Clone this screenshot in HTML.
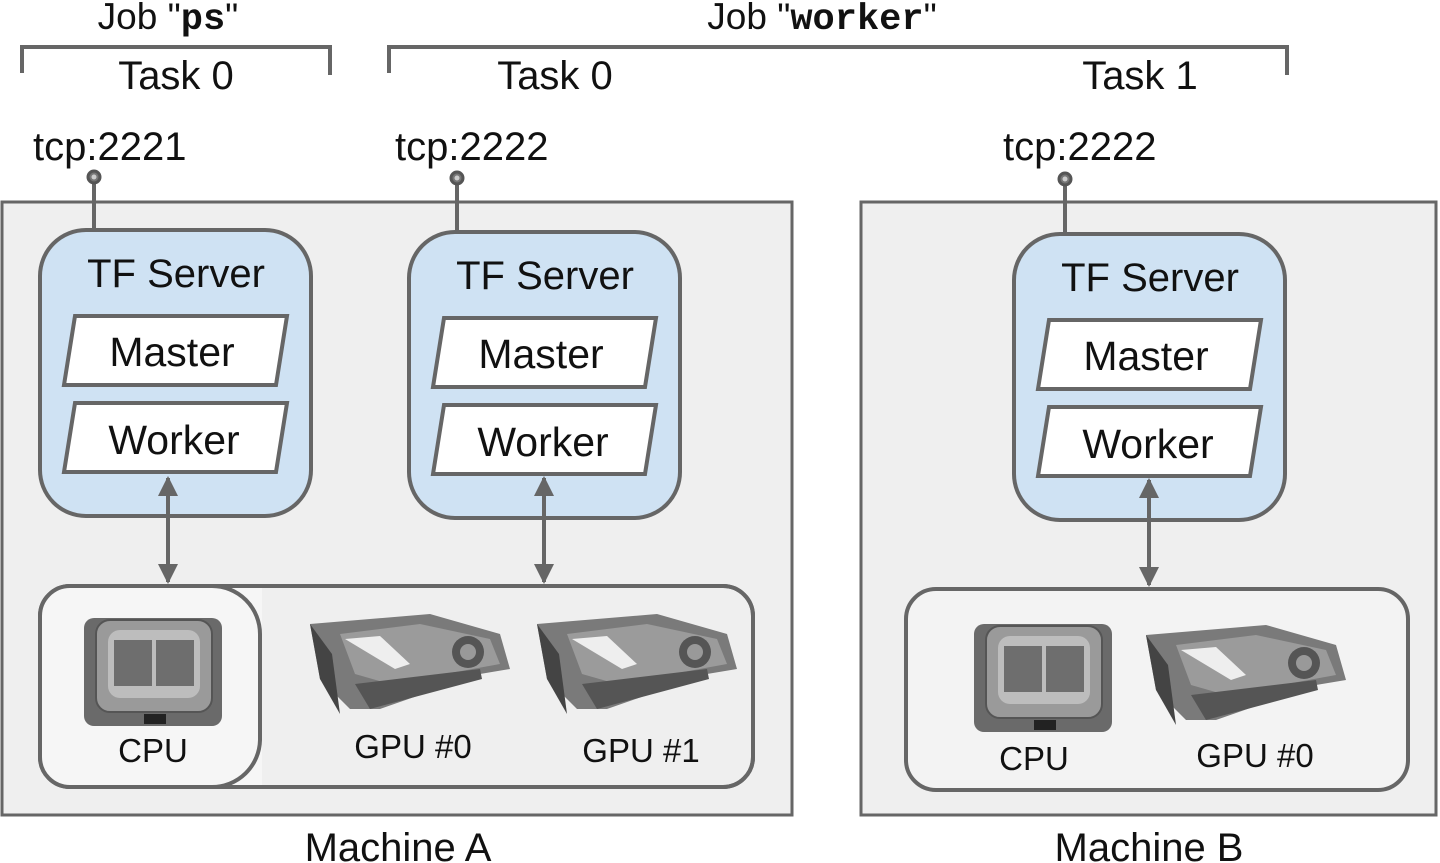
<!DOCTYPE html>
<html><head><meta charset="utf-8"><style>html,body{margin:0;padding:0;background:#fff}svg{display:block}text{font-family:"Liberation Sans",sans-serif;fill:#111}</style></head><body>
<svg width="1440" height="863" viewBox="0 0 1440 863" xmlns="http://www.w3.org/2000/svg">
<defs>
<g id="cpu">
<rect x="0" y="0" width="138" height="108" rx="10" fill="#6a6a6a"/>
<rect x="12" y="2" width="116" height="92" rx="14" fill="#9a9a9a" stroke="#555" stroke-width="2"/>
<rect x="24" y="12" width="92" height="68" rx="12" fill="#bdbdbd"/>
<rect x="30" y="22" width="38" height="46" fill="#6e6e6e"/>
<rect x="72" y="22" width="38" height="46" fill="#6e6e6e"/>
<rect x="60" y="96" width="22" height="10" fill="#222"/>
</g>
<g id="gpu">
<polygon points="10,10 130,0 200,20 210,55 180,60 80,95 50,95 20,65" fill="#7a7a7a"/>
<polygon points="10,10 20,65 40,100 32,40" fill="#444"/>
<polygon points="40,20 120,10 190,25 200,50 90,70 55,60" fill="#9b9b9b"/>
<polygon points="45,25 80,22 110,50 95,55" fill="#eee"/>
<circle cx="168" cy="38" r="16" fill="#555"/><circle cx="168" cy="38" r="8" fill="#999"/>
<polygon points="55,70 180,55 182,65 70,95" fill="#555"/>
</g>
<marker id="ah" viewBox="0 0 10 10" refX="9" refY="5" markerWidth="5" markerHeight="5" orient="auto-start-reverse"><path d="M0,0 L10,5 L0,10 z" fill="#666"/></marker>
</defs>
<g font-size="37" text-anchor="middle">
<text x="168" y="29">Job "<tspan font-family="Liberation Mono" font-weight="bold">ps</tspan>"</text>
<text x="822" y="29">Job "<tspan font-family="Liberation Mono" font-weight="bold">worker</tspan>"</text>
</g>
<g fill="none" stroke="#666" stroke-width="4">
<path d="M22,73 V47 H330 V75"/>
<path d="M389,73 V47 H1287 V75"/>
</g>
<g font-size="40" text-anchor="middle">
<text x="176" y="89">Task 0</text><text x="555" y="89">Task 0</text><text x="1140" y="89">Task 1</text>
</g>
<g font-size="40">
<text x="33" y="160">tcp:2221</text><text x="395" y="160">tcp:2222</text><text x="1003" y="160">tcp:2222</text>
</g>
<rect x="2" y="202" width="790" height="613" fill="#efefef" stroke="#666" stroke-width="3"/>
<rect x="861" y="202" width="575" height="613" fill="#efefef" stroke="#666" stroke-width="3"/>
<g stroke="#666" stroke-width="4">
<line x1="94" y1="177" x2="94" y2="232"/><line x1="457" y1="178" x2="457" y2="234"/><line x1="1065" y1="179" x2="1065" y2="236"/>
</g>
<g fill="#777" stroke="#555" stroke-width="3">
<circle cx="94" cy="177" r="6"/><circle cx="457" cy="178" r="6"/><circle cx="1065" cy="179" r="6"/>
</g>
<g fill="#ccc"><circle cx="94" cy="177" r="2.5"/><circle cx="457" cy="178" r="2.5"/><circle cx="1065" cy="179" r="2.5"/></g>
<g fill="#cfe2f3" stroke="#666" stroke-width="4">
<rect x="40" y="230" width="271" height="286" rx="46"/>
<rect x="409" y="232" width="271" height="286" rx="46"/>
<rect x="1014" y="234" width="271" height="286" rx="46"/>
</g>
<g fill="#fff" stroke="#666" stroke-width="4">
<polygon points="75,316 287,316 276,385 64,385"/><polygon points="75,403 287,403 276,472 64,472"/>
<polygon points="444,318 656,318 645,387 433,387"/><polygon points="444,405 656,405 645,474 433,474"/>
<polygon points="1049,320 1261,320 1250,389 1038,389"/><polygon points="1049,407 1261,407 1250,476 1038,476"/>
</g>
<g font-size="40" text-anchor="middle">
<text x="176" y="287">TF Server</text><text x="545" y="289">TF Server</text><text x="1150" y="291">TF Server</text>
</g>
<g font-size="41" text-anchor="middle">
<text x="172" y="366">Master</text><text x="174" y="454">Worker</text>
<text x="541" y="368">Master</text><text x="543" y="456">Worker</text>
<text x="1146" y="370">Master</text><text x="1148" y="458">Worker</text>
</g>
<rect x="40" y="586" width="713" height="201" rx="30" fill="#efefef" stroke="#666" stroke-width="4"/>
<path d="M70,586 H262 V787 H70 A30,30 0 0 1 40,757 V616 A30,30 0 0 1 70,586 Z" fill="#f6f6f6"/>
<path d="M212,586 A48,48 0 0 1 260,634 V740 A48,48 0 0 1 212,787" fill="none" stroke="#666" stroke-width="4"/>
<rect x="40" y="586" width="713" height="201" rx="30" fill="none" stroke="#666" stroke-width="4"/>
<rect x="906" y="589" width="502" height="201" rx="30" fill="#f3f3f3" stroke="#666" stroke-width="4"/>
<g stroke="#666" stroke-width="4" marker-start="url(#ah)" marker-end="url(#ah)">
<line x1="168" y1="478" x2="168" y2="582"/><line x1="544" y1="478" x2="544" y2="582"/><line x1="1149" y1="480" x2="1149" y2="585"/>
</g>
<use href="#cpu" x="84" y="618"/><use href="#cpu" x="974" y="624"/>
<use href="#gpu" x="300" y="614"/><use href="#gpu" x="527" y="614"/><use href="#gpu" x="1136" y="625"/>
<g font-size="33" text-anchor="middle">
<text x="153" y="762">CPU</text><text x="413" y="758">GPU #0</text><text x="641" y="762">GPU #1</text>
<text x="1034" y="770">CPU</text><text x="1255" y="767">GPU #0</text>
</g>
<g font-size="40" text-anchor="middle">
<text x="398" y="861">Machine A</text><text x="1149" y="861">Machine B</text>
</g>
</svg>
</body></html>
